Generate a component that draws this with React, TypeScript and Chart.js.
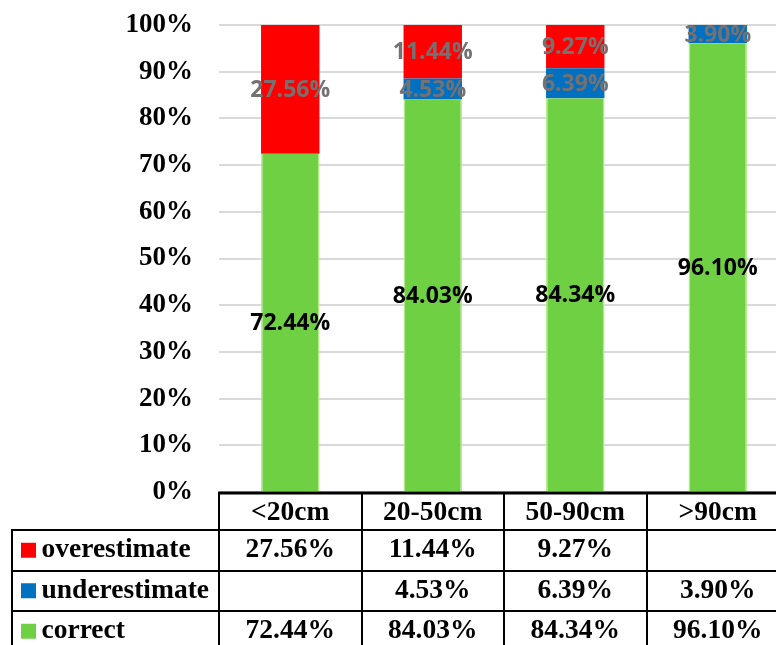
import { useEffect, useRef } from 'react';
import { Chart, registerables } from 'chart.js';

Chart.register(...registerables);

// Size classes of the measured objects
const categories = ['<20cm', '20-50cm', '50-90cm', '>90cm'];

// Share of estimates per class (%)
const overestimate: (number | null)[] = [27.56, 11.44, 9.27, null];
const underestimate: (number | null)[] = [null, 4.53, 6.39, 3.9];
const correct: (number | null)[] = [72.44, 84.03, 84.34, 96.1];

// Value axis
const yMin = 0;
const yMax = 100;
const yStep = 10;

const RED = '#FF0000';
const BLUE = '#0070C0';
const GREEN = '#70D044';
const GREEN_EDGE = '#B2EA88';
const LABEL_GRAY = '#767171';

const SERIF = '"Liberation Serif", "Times New Roman", serif';
const LABEL_FONT = 'bold 23px "Open Sans", sans-serif';

const fmt = (v: number) => v.toFixed(2) + '%';

// Values printed at the middle of every bar segment
const segmentLabels = {
  id: 'segmentLabels',
  afterDatasetsDraw(chart: any) {
    const { ctx } = chart;
    ctx.save();
    ctx.font = LABEL_FONT;
    ctx.textAlign = 'center';
    ctx.textBaseline = 'middle';
    chart.data.datasets.forEach((ds: any, di: number) => {
      const meta = chart.getDatasetMeta(di);
      ctx.fillStyle = ds.labelColor;
      meta.data.forEach((bar: any, i: number) => {
        const v = ds.data[i];
        if (v == null) return;
        const yMid = (bar.y + bar.base) / 2;
        ctx.fillText(fmt(v), bar.x, yMid + 1);
      });
    });
    ctx.restore();
  },
};

// Data table under the plot, columns aligned with the category scale
const dataTable = {
  id: 'dataTable',
  afterDraw(chart: any) {
    const { ctx, chartArea } = chart;
    const x = chart.scales.x;
    const H = chart.height;
    const n = categories.length;
    const half = (x.getPixelForValue(1) - x.getPixelForValue(0)) / 2;
    const bounds: number[] = [];
    for (let i = 0; i < n; i++) bounds.push(x.getPixelForValue(i) - half);
    bounds.push(x.getPixelForValue(n - 1) + half);

    const top = chartArea.bottom + 1;
    const headerH = 37;
    const rowH = 40.5;
    const legendLeft = 12;

    const rows = [
      { name: 'overestimate', color: RED, data: overestimate },
      { name: 'underestimate', color: BLUE, data: underestimate },
      { name: 'correct', color: GREEN, data: correct },
    ];

    ctx.save();
    ctx.fillStyle = '#000';
    ctx.font = `bold 27.5px ${SERIF}`;
    ctx.textAlign = 'center';
    ctx.textBaseline = 'middle';

    // header
    categories.forEach((c, i) => {
      ctx.fillText(c, (bounds[i] + bounds[i + 1]) / 2, top + headerH / 2 + 1);
    });

    // body rows
    rows.forEach((r, ri) => {
      const yTop = top + headerH + ri * rowH;
      const yc = yTop + rowH / 2;
      ctx.fillStyle = r.color;
      ctx.fillRect(21, yc - 7.5, 15, 15);
      ctx.fillStyle = '#000';
      ctx.textAlign = 'left';
      ctx.fillText(r.name, 41.5, yc);
      ctx.textAlign = 'center';
      r.data.forEach((v, i) => {
        if (v == null) return;
        ctx.fillText(fmt(v), (bounds[i] + bounds[i + 1]) / 2, yc);
      });
    });

    // grid lines of the table
    ctx.strokeStyle = '#000';
    ctx.lineWidth = 3;
    ctx.beginPath();
    ctx.moveTo(bounds[0] - 1, top);
    ctx.lineTo(chart.width, top);
    ctx.stroke();

    ctx.lineWidth = 2;
    ctx.beginPath();
    for (let ri = 0; ri < rows.length; ri++) {
      const y = Math.round(top + headerH + ri * rowH);
      ctx.moveTo(legendLeft - 1, y);
      ctx.lineTo(chart.width, y);
    }
    bounds.forEach((b) => {
      const bx = Math.round(b);
      ctx.moveTo(bx, top);
      ctx.lineTo(bx, H);
    });
    ctx.moveTo(legendLeft, top + headerH);
    ctx.lineTo(legendLeft, H);
    ctx.stroke();
    ctx.restore();
  },
};

export default function App() {
  const ref = useRef<HTMLCanvasElement>(null);

  useEffect(() => {
    const chart = new Chart(ref.current as HTMLCanvasElement, {
      type: 'bar',
      data: {
        labels: categories,
        datasets: [
          {
            label: 'correct',
            data: correct,
            backgroundColor: GREEN,
            borderColor: GREEN_EDGE,
            borderWidth: { left: 1.5, right: 1.5, top: 0, bottom: 0 },
            borderSkipped: false,
            labelColor: '#000',
          } as any,
          {
            label: 'underestimate',
            data: underestimate,
            backgroundColor: BLUE,
            borderWidth: 0,
            labelColor: LABEL_GRAY,
          } as any,
          {
            label: 'overestimate',
            data: overestimate,
            backgroundColor: RED,
            borderWidth: 0,
            labelColor: LABEL_GRAY,
          } as any,
        ],
      },
      options: {
        responsive: false,
        animation: false,
        devicePixelRatio: 1,
        layout: { padding: { top: 25, bottom: 153, left: 0, right: 0 } },
        datasets: {
          bar: { categoryPercentage: 1, barPercentage: 0.41 },
        },
        plugins: {
          legend: { display: false },
          tooltip: { enabled: false },
        },
        scales: {
          x: { display: false, stacked: true },
          y: {
            stacked: true,
            min: yMin,
            max: yMax,
            ticks: {
              stepSize: yStep,
              padding: 26,
              color: '#000',
              font: { family: SERIF, size: 27, weight: 'bold' },
              callback: (v: any) => v + '%',
            },
            grid: { color: '#D9D9D9', lineWidth: 2, drawTicks: false },
            border: { display: false },
            afterFit: (s: any) => {
              s.width = 219;
              s.paddingTop = 0;
              s.paddingBottom = 0;
            },
          },
        },
      },
      plugins: [segmentLabels, dataTable],
    });
    return () => chart.destroy();
  }, []);

  return (
    <div
      style={{
        position: 'fixed',
        left: 0,
        top: 0,
        width: 776,
        height: 645,
        overflow: 'hidden',
        background: '#fff',
      }}
    >
      <canvas ref={ref} width={789} height={645} style={{ display: 'block', width: 789, height: 645 }} />
    </div>
  );
}
